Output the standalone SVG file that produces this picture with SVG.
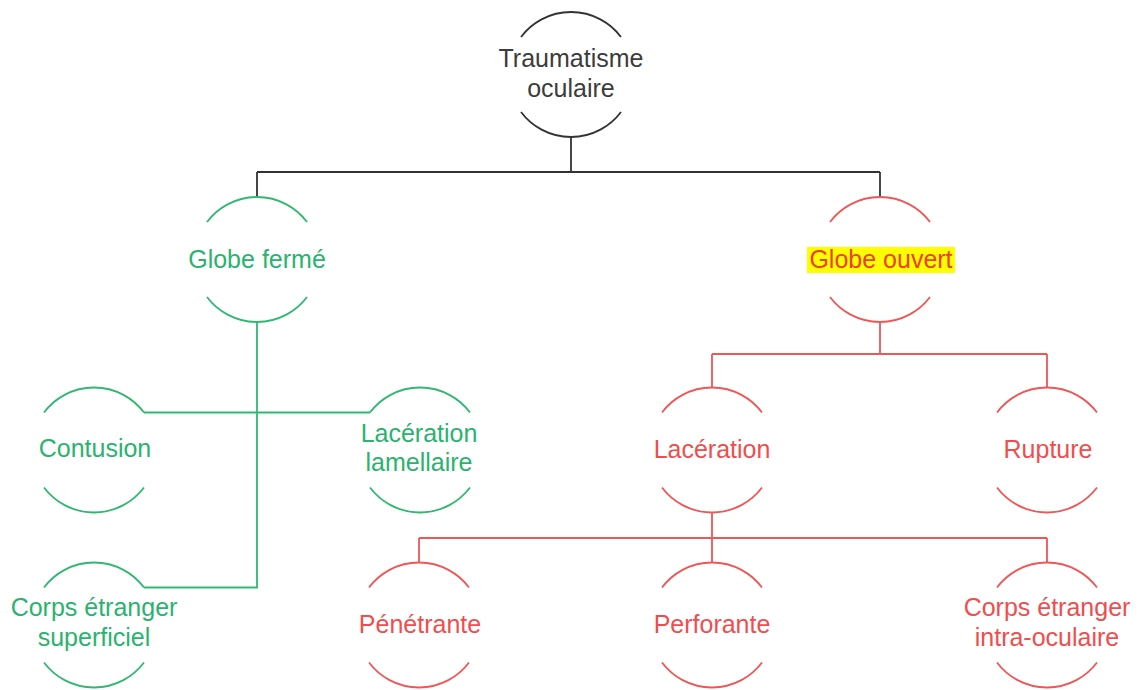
<svg xmlns="http://www.w3.org/2000/svg" xmlns:xlink="http://www.w3.org/1999/xlink" width="1139" height="690" viewBox="0 0 1139 690">
<style>
text{font-family:"Liberation Sans",Arial,sans-serif;font-size:25px;text-anchor:middle}
.k{stroke:#333;fill:none;stroke-width:1.8}
.g{stroke:#30b872;fill:none;stroke-width:1.8}
.r{stroke:#ef5656;fill:none;stroke-width:1.8}
.tk{fill:#3c3c3c}
.tg{fill:#2ab36e}
.tr{fill:#ef4e4e}
</style>
<defs>
<path id="arcs" d="M-50,-37.5 A62.5,62.5 0 0 1 50,-37.5 M-50,37.5 A62.5,62.5 0 0 0 50,37.5"/>
</defs>
<rect width="1139" height="690" fill="#fff"/>
<g id="connectors">
<path class="k" d="M571,137 V172 M257,172 H880 M257,172 V197 M880,172 V197"/>
<path class="g" d="M257,322 V587.5 H144 M144,412.5 H370"/>
<path class="r" d="M880,322 V354 M712,354 H1047 M712,354 V387.5 M1047,354 V387.5 M712,512.5 V538 M419,538 H1047 M419,538 V562.5 M712,538 V562.5 M1047,538 V562.5"/>
</g>
<g id="n-traumatisme">
<use href="#arcs" class="k" transform="translate(571,74.5)"/>
<text class="tk" x="571" y="67">Traumatisme</text>
<text class="tk" x="571" y="97">oculaire</text>
</g>
<g id="n-globe-ferme">
<use href="#arcs" class="g" transform="translate(257,259.5)"/>
<text class="tg" x="257" y="268">Globe fermé</text>
</g>
<g id="n-globe-ouvert">
<use href="#arcs" class="r" transform="translate(880,259.5)"/>
<rect x="807" y="247" width="148" height="26" fill="#ffff00"/>
<text x="881" y="268" fill="#ec3f2c">Globe ouvert</text>
</g>
<g id="n-contusion">
<use href="#arcs" class="g" transform="translate(94,450)"/>
<text class="tg" x="95" y="457">Contusion</text>
</g>
<g id="n-laceration-lamellaire">
<use href="#arcs" class="g" transform="translate(420,450)"/>
<text class="tg" x="419" y="442">Lacération</text>
<text class="tg" x="419" y="471">lamellaire</text>
</g>
<g id="n-corps-superficiel">
<use href="#arcs" class="g" transform="translate(94,625)"/>
<text class="tg" x="94" y="616">Corps étranger</text>
<text class="tg" x="94" y="646">superficiel</text>
</g>
<g id="n-laceration">
<use href="#arcs" class="r" transform="translate(712,450)"/>
<text class="tr" x="712" y="458">Lacération</text>
</g>
<g id="n-rupture">
<use href="#arcs" class="r" transform="translate(1047,450)"/>
<text class="tr" x="1048" y="458">Rupture</text>
</g>
<g id="n-penetrante">
<use href="#arcs" class="r" transform="translate(419,625)"/>
<text class="tr" x="420" y="633">Pénétrante</text>
</g>
<g id="n-perforante">
<use href="#arcs" class="r" transform="translate(712,625)"/>
<text class="tr" x="712" y="633">Perforante</text>
</g>
<g id="n-corps-intra">
<use href="#arcs" class="r" transform="translate(1047,625)"/>
<text class="tr" x="1047" y="616">Corps étranger</text>
<text class="tr" x="1047" y="646">intra-oculaire</text>
</g>
</svg>
